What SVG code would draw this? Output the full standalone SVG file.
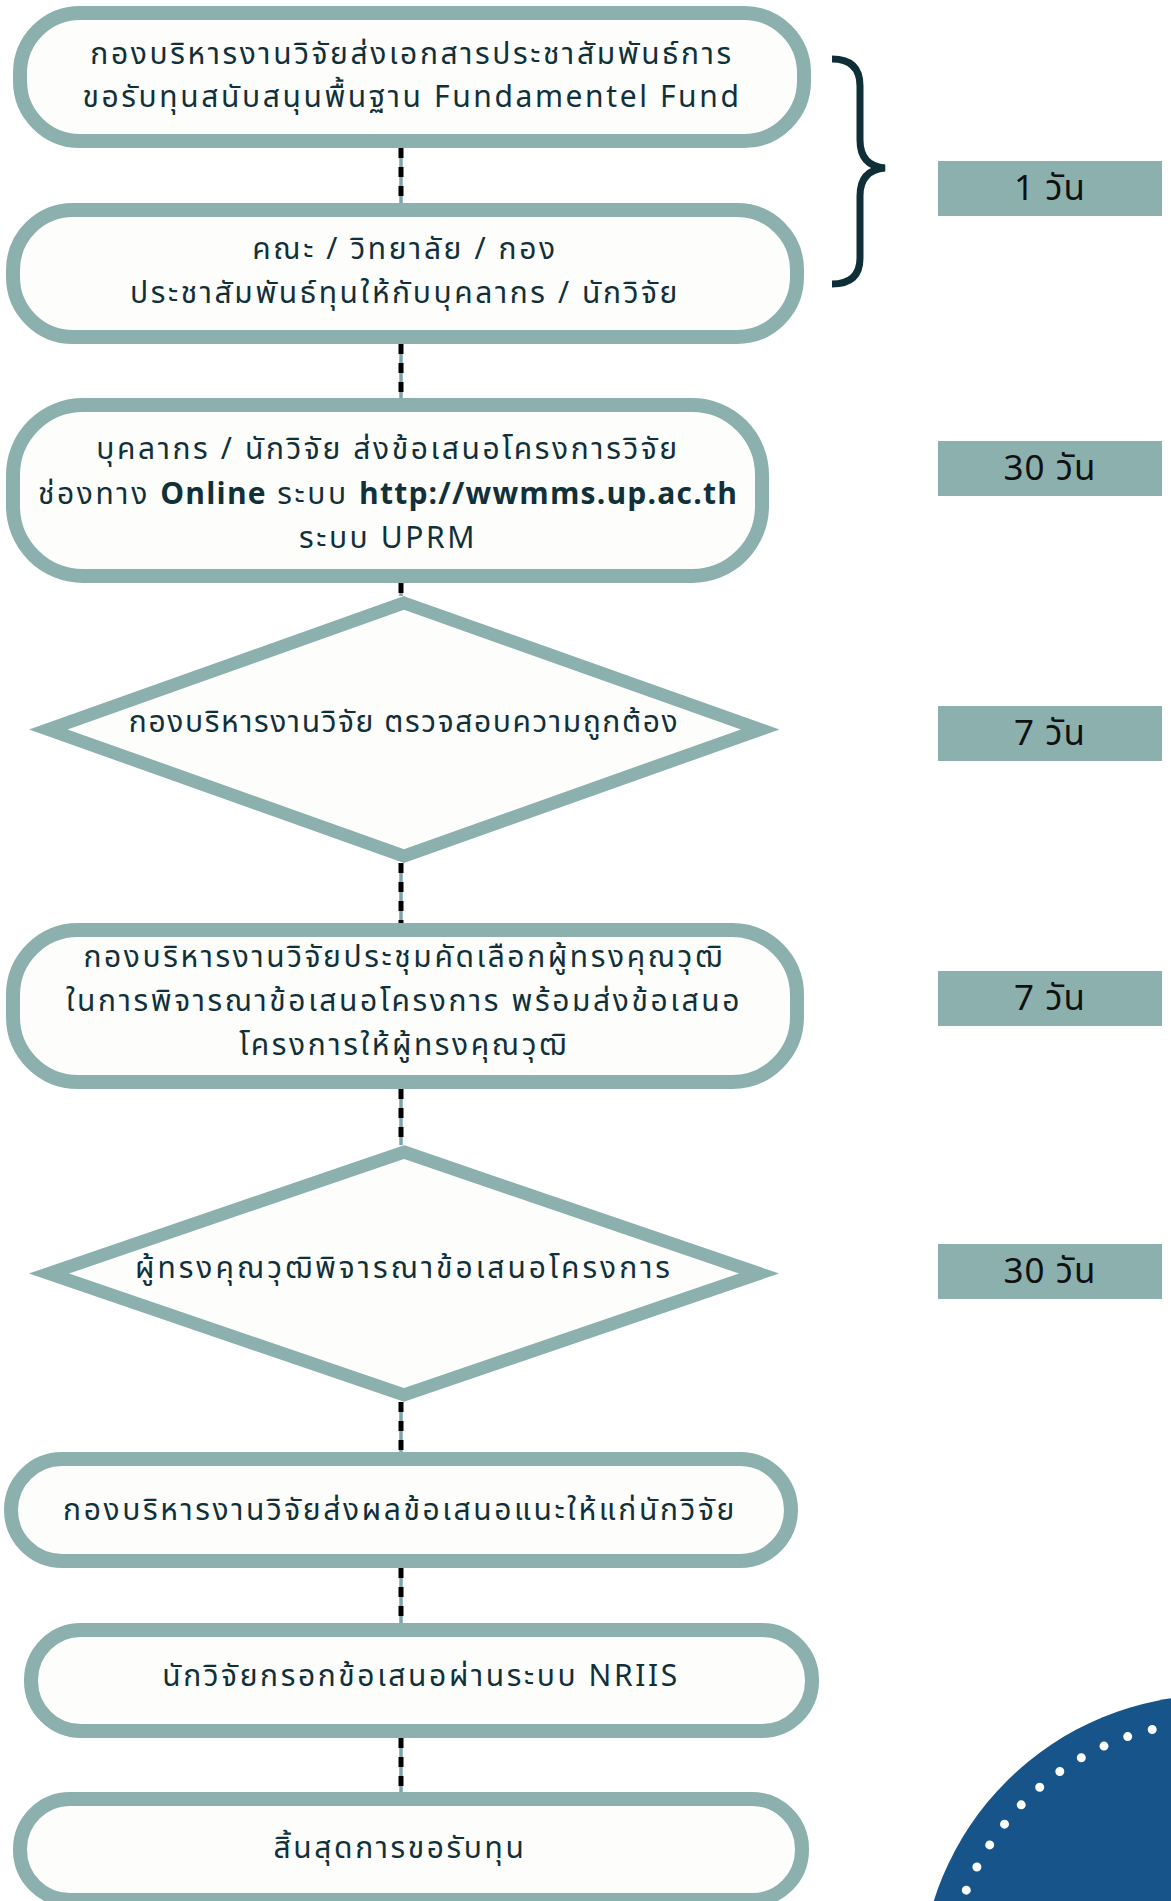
<svg xmlns="http://www.w3.org/2000/svg" width="1171" height="1901" viewBox="0 0 1171 1901">
<style>
.node rect{fill:#fdfdfb;stroke:#8bb0ae;stroke-width:14}
.dia polygon{fill:#fdfdfb;stroke:#8bb0ae;stroke-width:13;stroke-linejoin:miter;stroke-miterlimit:6}
.t{font-family:"Noto Sans Thai","Noto Sans","DejaVu Sans",sans-serif;font-size:30px;letter-spacing:2.6px;fill:#10303a;text-anchor:middle}
.b{font-weight:bold;letter-spacing:1.2px}
.s{letter-spacing:1.6px}
.w{letter-spacing:3px}
.day rect{fill:#8bb0ae}
.day text{font-family:"Noto Sans Thai","Noto Sans","DejaVu Sans",sans-serif;font-size:35px;letter-spacing:1px;fill:#111;text-anchor:middle}
.base{stroke:#7ea5aa;stroke-width:3.5;fill:none}
.dash{stroke:#000;stroke-width:5;stroke-dasharray:10 9;fill:none}
</style>
<rect width="1171" height="1901" fill="#ffffff"/>
<g id="decor">
<circle cx="1215" cy="1990" r="295" fill="#175489"/>
<circle cx="1215" cy="1990" r="268" fill="none" stroke="#ffffff" stroke-width="9" stroke-linecap="round" stroke-dasharray="0 25.51"/>
</g>
<g id="connectors">
<path class="base" d="M401 148V203M401 344V398M401 583V596M401 863V923M401 1089V1145M401 1402V1452M401 1568V1623M401 1738V1792"/>
<path class="dash" d="M401 148V203M401 344V398M401 583V596M401 863V923M401 1089V1145M401 1402V1452M401 1568V1623M401 1738V1792"/>
</g>
<g id="brace">
<path d="M832 59Q860 59 860 86L860 140Q860 166 885 168Q860 170 860 196L860 258Q860 284 832 284" fill="none" stroke="#0e2f38" stroke-width="7"/>
</g>
<g id="n1" class="node">
<rect x="20" y="13" width="784" height="128" rx="60"/>
<text class="t" x="412" y="64">กองบริหารงานวิจัยส่งเอกสารประชาสัมพันธ์การ</text>
<text class="t" x="412" y="107">ขอรับทุนสนับสนุนพื้นฐาน Fundamentel Fund</text>
</g>
<g id="n2" class="node">
<rect x="13" y="210" width="784" height="127" rx="60"/>
<text class="t" x="405" y="259">คณะ  /  วิทยาลัย  /  กอง</text>
<text class="t" x="405" y="303">ประชาสัมพันธ์ทุนให้กับบุคลากร / นักวิจัย</text>
</g>
<g id="n3" class="node">
<rect x="13" y="405" width="749" height="171" rx="70"/>
<text class="t" x="388" y="459">บุคลากร / นักวิจัย ส่งข้อเสนอโครงการวิจัย</text>
<text class="t" x="388" y="504">ช่องทาง <tspan class="b">Online</tspan> ระบบ <tspan class="b">http://wwmms.up.ac.th</tspan></text>
<text class="t" x="388" y="548">ระบบ UPRM</text>
</g>
<g id="d1" class="dia">
<polygon points="404,603 760,729.5 404,856 48.5,729.5"/>
<text class="t s" x="404" y="732">กองบริหารงานวิจัย ตรวจสอบความถูกต้อง</text>
</g>
<g id="n4" class="node">
<rect x="13" y="930" width="784" height="152" rx="65"/>
<text class="t" x="404" y="967">กองบริหารงานวิจัยประชุมคัดเลือกผู้ทรงคุณวุฒิ</text>
<text class="t" x="404" y="1011">ในการพิจารณาข้อเสนอโครงการ พร้อมส่งข้อเสนอ</text>
<text class="t" x="404" y="1055">โครงการให้ผู้ทรงคุณวุฒิ</text>
</g>
<g id="d2" class="dia">
<polygon points="404,1152 759,1273.5 404,1395 49,1273.5"/>
<text class="t w" x="404" y="1278">ผู้ทรงคุณวุฒิพิจารณาข้อเสนอโครงการ</text>
</g>
<g id="n5" class="node">
<rect x="11" y="1459" width="780" height="102" rx="51"/>
<text class="t" x="400" y="1520">กองบริหารงานวิจัยส่งผลข้อเสนอแนะให้แก่นักวิจัย</text>
</g>
<g id="n6" class="node">
<rect x="31" y="1630" width="781" height="101" rx="50"/>
<text class="t" x="421" y="1686">นักวิจัยกรอกข้อเสนอผ่านระบบ NRIIS</text>
</g>
<g id="n7" class="node">
<rect x="20" y="1799" width="782" height="101" rx="50"/>
<text class="t" x="400" y="1858">สิ้นสุดการขอรับทุน</text>
</g>
<g id="day1" class="day"><rect x="938" y="161" width="224" height="55"/><text x="1050" y="200">1 วัน</text></g>
<g id="day2" class="day"><rect x="938" y="441" width="224" height="55"/><text x="1050" y="480">30 วัน</text></g>
<g id="day3" class="day"><rect x="938" y="706" width="224" height="55"/><text x="1050" y="745">7 วัน</text></g>
<g id="day4" class="day"><rect x="938" y="971" width="224" height="55"/><text x="1050" y="1010">7 วัน</text></g>
<g id="day5" class="day"><rect x="938" y="1244" width="224" height="55"/><text x="1050" y="1283">30 วัน</text></g>
</svg>
